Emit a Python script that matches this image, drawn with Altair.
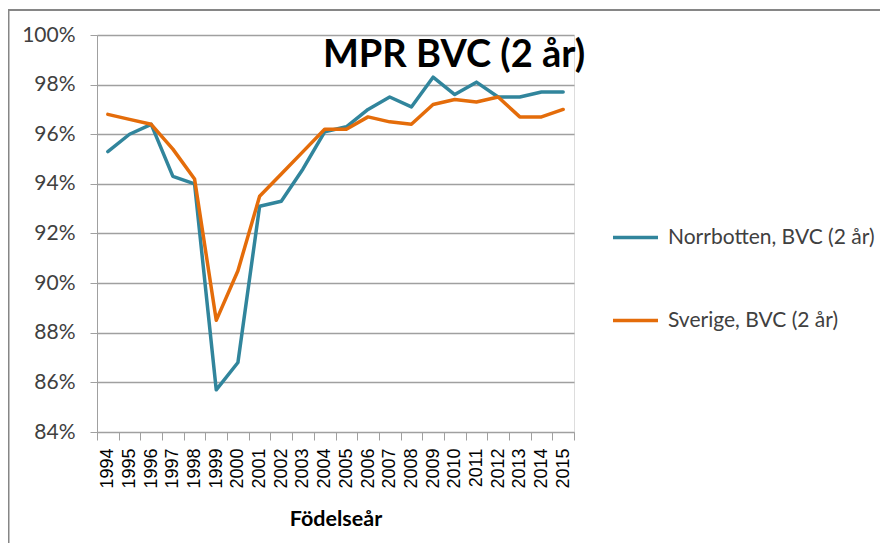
import altair as alt
import pandas as pd

years = [str(y) for y in range(1994, 2016)]
norrbotten = [95.3, 96.0, 96.4, 94.3, 94.0, 85.7, 86.8, 93.1, 93.3, 94.6, 96.1,
              96.3, 97.0, 97.5, 97.1, 98.3, 97.6, 98.1, 97.5, 97.5, 97.7, 97.7]
sverige = [96.8, 96.6, 96.4, 95.4, 94.2, 88.5, 90.5, 93.5, 94.4, 95.3, 96.2,
           96.2, 96.7, 96.5, 96.4, 97.2, 97.4, 97.3, 97.5, 96.7, 96.7, 97.0]
series_names = ["Norrbotten, BVC (2 år)", "Sverige, BVC (2 år)"]
series_colors = ["#31859C", "#E46C0A"]
y_ticks = [0.84, 0.86, 0.88, 0.90, 0.92, 0.94, 0.96, 0.98, 1.00]
chart_title = "MPR BVC (2 år)"

rows = []
for i, yr in enumerate(years):
    rows.append({"year": yr, "serie": series_names[0], "value": norrbotten[i] / 100})
    rows.append({"year": yr, "serie": series_names[1], "value": sverige[i] / 100})
df = pd.DataFrame(rows)

W, H = 477, 397

lines = alt.Chart(df).mark_line(strokeWidth=3.5, strokeJoin="round", strokeCap="round").encode(
    x=alt.X("year:O", sort=years,
            scale=alt.Scale(type="band", paddingInner=0, paddingOuter=0),
            bandPosition=0.5,
            axis=alt.Axis(title="Födelseår", labelAngle=-90, tickBand="extent",
                          labelFont="Liberation Sans", labelFontSize=18, labelColor="#000000",
                          labelPadding=8, tickSize=8, tickColor="#A0A0A0",
                          domainColor="#A0A0A0", grid=False,
                          titleFont="Lato", titleFontSize=21.5, titleFontWeight="bold",
                          titleColor="#000000", titleY=87, titleBaseline="middle")),
    y=alt.Y("value:Q",
            scale=alt.Scale(domain=[0.84, 1.0], nice=False, zero=False),
            axis=alt.Axis(title=None, format=".0%", values=y_ticks,
                          labelFont="Lato", labelFontSize=21, labelColor="#404040",
                          labelPadding=15, tickSize=7, tickColor="#A0A0A0",
                          domainColor="#A0A0A0", gridColor="#A0A0A0", gridWidth=1.5)),
    color=alt.Color("serie:N",
                    scale=alt.Scale(domain=series_names, range=series_colors),
                    legend=alt.Legend(title=None, orient="none", legendX=514, legendY=178,
                                      symbolType="stroke", symbolSize=2025, symbolStrokeWidth=3.5,
                                      labelFont="Lato", labelFontSize=21, labelColor="#404040",
                                      labelOffset=8, rowPadding=48, labelLimit=300)),
)

border = alt.Chart().mark_rect(fill=None, fillOpacity=0, stroke="#868686", strokeWidth=2).encode(
    x=alt.value(-88.5), x2=alt.value(900), y=alt.value(-25), y2=alt.value(600))

title_text = alt.Chart().mark_text(
    text=chart_title, font="Lato", fontSize=38, fontWeight="bold", color="#000000",
    align="center", baseline="alphabetic").encode(
    x=alt.value(357), y=alt.value(32))

chart = alt.layer(border, lines, title_text).properties(
    width=W, height=H,
    autosize=alt.AutoSizeParams(type="none"),
    padding={"left": 89, "top": 27, "right": 306, "bottom": 111},
).configure_view(stroke=None).configure(background="white")

chart.save("out.html", embed_options={"renderer": "svg", "actions": False})
